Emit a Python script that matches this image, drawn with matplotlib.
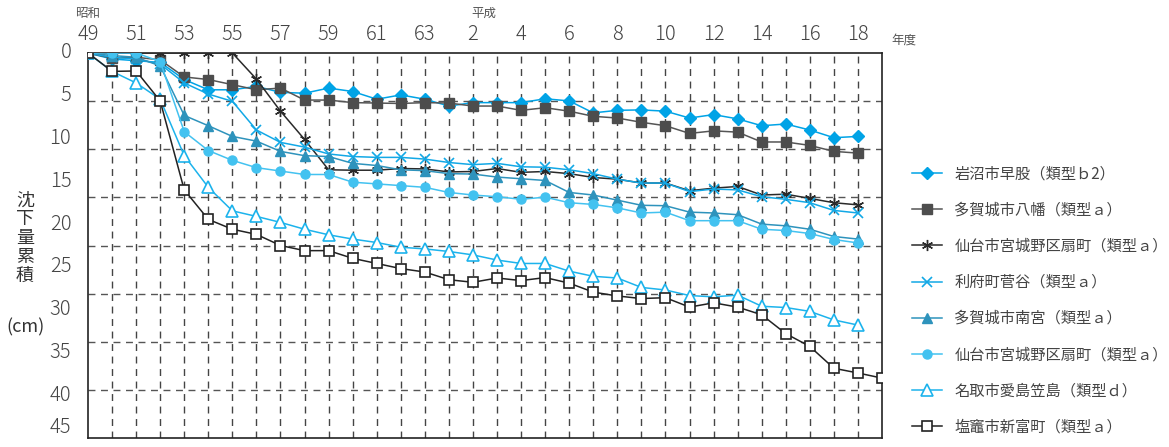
import matplotlib
matplotlib.use("Agg")
import matplotlib.pyplot as plt
import numpy as np

plt.rcParams['font.family'] = ['Noto Sans CJK JP', 'DejaVu Sans']

# Fiscal years: 昭和49 (idx 0) ... 平成19 (idx 33)
x_tick_labels = ['49', '51', '53', '55', '57', '59', '61', '63',
                 '2', '4', '6', '8', '10', '12', '14', '16', '18']
y_tick_labels = ['0', '5', '10', '15', '20', '25', '30', '35', '40', '45']

names = [
    '岩沼市早股（類型ｂ2）',
    '多賀城市八幡（類型ａ）',
    '仙台市宮城野区扇町（類型ａ）',
    '利府町菅谷（類型ａ）',
    '多賀城市南宮（類型ａ）',
    '仙台市宮城野区扇町（類型ａ）',
    '名取市愛島笠島（類型ｄ）',
    '塩竈市新富町（類型ａ）',
]

iwanuma = [0, 0.7, 0.9, 1.1, 3.1, 4.3, 4.3, 3.9, 4.6, 4.7, 4.1, 4.5, 5.4, 4.9, 5.4, 6.2, 5.8,
           5.8, 5.8, 5.35, 5.6, 7.0, 6.7, 6.65, 6.8, 7.6, 7.2, 7.7, 8.5, 8.3, 9.0, 9.9, 9.75]
yawata = [0, 0.6, 0.5, 0.8, 2.8, 3.1, 3.7, 4.3, 4.1, 5.5, 5.5, 5.8, 5.85, 5.9, 5.8, 5.85, 6.2,
          6.2, 6.7, 6.4, 6.8, 7.4, 7.6, 8.1, 8.5, 9.4, 9.1, 9.25, 10.4, 10.4, 10.8, 11.5, 11.7]
ougimachi_a = [0, 0, 0, 0, 0, 0, 0, 3.05, 6.8, 10.1, 13.65, 13.7, 13.7, 13.5, 13.55, 13.9, 13.85,
               13.5, 13.95, 13.85, 14.1, 14.55, 14.75, 15.2, 15.2, 16.1, 15.8, 15.6, 16.6, 16.5, 17.0, 17.5, 17.75]
rifu = [0, 0.5, 0.7, 1.3, 3.5, 4.8, 5.65, 9.0, 10.45, 11.0, 11.8, 12.1, 12.2, 12.2, 12.4, 12.8, 13.05,
        12.9, 13.3, 13.35, 13.65, 14.1, 14.75, 15.2, 15.2, 16.2, 15.9, 16.0, 16.8, 17.1, 17.5, 18.4, 18.7]
minamimiya = [0, 0.3, 0.5, 1.5, 7.3, 8.5, 9.75, 10.3, 11.5, 12.0, 12.1, 12.9, 13.15, 13.65, 13.75, 14.1, 14.15,
              14.5, 14.7, 14.9, 16.3, 16.6, 17.2, 17.8, 17.85, 18.6, 18.7, 18.9, 20.0, 20.2, 20.6, 21.45, 21.75]
ougimachi_b = [0, 0.0, 0.0, 1.0, 9.2, 11.4, 12.55, 13.4, 13.8, 14.2, 14.2, 15.1, 15.3, 15.5, 15.7, 16.3, 16.6,
               16.8, 17.1, 16.85, 17.5, 17.7, 18.1, 18.7, 18.6, 19.6, 19.6, 19.6, 20.6, 20.75, 21.1, 21.8, 22.2]
natori = [0, 2.15, 3.5, 5.4, 12.0, 15.7, 18.45, 19.1, 19.8, 20.6, 21.25, 21.75, 22.15, 22.7, 22.9, 23.2, 23.6,
          24.2, 24.6, 24.6, 25.5, 26.1, 26.3, 27.4, 27.7, 28.35, 28.5, 28.3, 29.6, 29.75, 30.2, 31.2, 31.8]
shiogama = [0, 2.15, 2.1, 5.6, 16.0, 19.45, 20.6, 21.2, 22.5, 23.1, 23.1, 24.0, 24.6, 25.2, 25.6, 26.5, 26.8,
            26.3, 26.6, 26.25, 26.9, 27.95, 28.4, 28.7, 28.6, 29.7, 29.2, 29.7, 30.6, 32.8, 34.3, 36.85, 37.4, 38.0]

series = [iwanuma, yawata, ougimachi_a, rifu, minamimiya, ougimachi_b, natori, shiogama]

styles = [
    dict(color='#00A3E6', marker='D', ms=6.5, mfc='#00A3E6', mec='#00A3E6'),
    dict(color='#555555', marker='s', ms=6.5, mfc='#4D4D4D', mec='#4D4D4D'),
    dict(color='#2A2A2A', marker=(6, 2, 0), ms=8, mfc='#2A2A2A', mec='#2A2A2A', mew=1.0),
    dict(color='#12A8E6', marker='x', ms=6.5, mfc='#12A8E6', mec='#12A8E6', mew=1.2),
    dict(color='#2E93BC', marker='^', ms=7, mfc='#2E93BC', mec='#2E93BC'),
    dict(color='#43C2F0', marker='o', ms=6.5, mfc='#43C2F0', mec='#43C2F0'),
    dict(color='#1CB3EC', marker='^', ms=8, mfc='white', mec='#1CB3EC', mew=1.2),
    dict(color='#222222', marker='s', ms=7, mfc='white', mec='#222222', mew=1.2),
]

fig = plt.figure(figsize=(11.69, 4.47), dpi=100)
ax = fig.add_axes([88 / 1169, 1 - 438 / 447, (882 - 88) / 1169, (438 - 53) / 447])

ax.set_xlim(0, 33)
ax.set_ylim(45, 0)

# grid
for i in range(1, 33):
    ax.axvline(i, color='#444444', lw=1.0, ls=(0, (5, 4)), zorder=0)
for k in range(1, 8):
    ax.axhline(k * 45 / 8, color='#555555', lw=1.0, ls=(0, (5, 4)), zorder=0)

handles = []
for vals, name, st in zip(series, names, styles):
    x = np.arange(len(vals))
    h, = ax.plot(x, vals, lw=1.1, label=name, zorder=3, **st)
    handles.append(h)

ax.xaxis.tick_top()
ax.set_xticks(np.arange(0, 33, 2))
ax.set_xticklabels(x_tick_labels, fontsize=14.5, color='#444444', fontweight='light')
ax.set_yticks(np.arange(0, 46, 5))
ax.set_yticklabels(y_tick_labels, fontsize=14.5, color='#444444', fontweight='light')
ax.tick_params(axis='both', length=0, pad=6)
ax.tick_params(axis='y', pad=12)
for lbl in ax.get_yticklabels():
    lbl.set_va('center')
ax.get_yticklabels()[-1].set_va('bottom')

for s in ax.spines.values():
    s.set_color('#222222')
    s.set_linewidth(1.2)

fig.text(88 / 1169, 1 - 13 / 447, '昭和', fontsize=9, color='#555555', ha='center', va='center')
fig.text(484 / 1169, 1 - 13 / 447, '平成', fontsize=9, color='#555555', ha='center', va='center')
fig.text(904 / 1169, 1 - 40 / 447, '年度', fontsize=9, color='#555555', ha='center', va='center')

fig.text(25 / 1169, 1 - 238 / 447, '沈\n下\n量\n累\n積', fontsize=13, color='#333333',
         ha='center', va='center', linespacing=1.05)
fig.text(25 / 1169, 1 - 327 / 447, '(cm)', fontsize=13, color='#333333', ha='center', va='center')

fig.legend(handles=handles, loc='upper left', bbox_to_anchor=(904 / 1169, 1 - 158 / 447),
           frameon=False, fontsize=11, handlelength=2.0, handletextpad=0.8,
           labelspacing=1.25, labelcolor='#444444', borderpad=0)

fig.savefig('out.png', dpi=100)
